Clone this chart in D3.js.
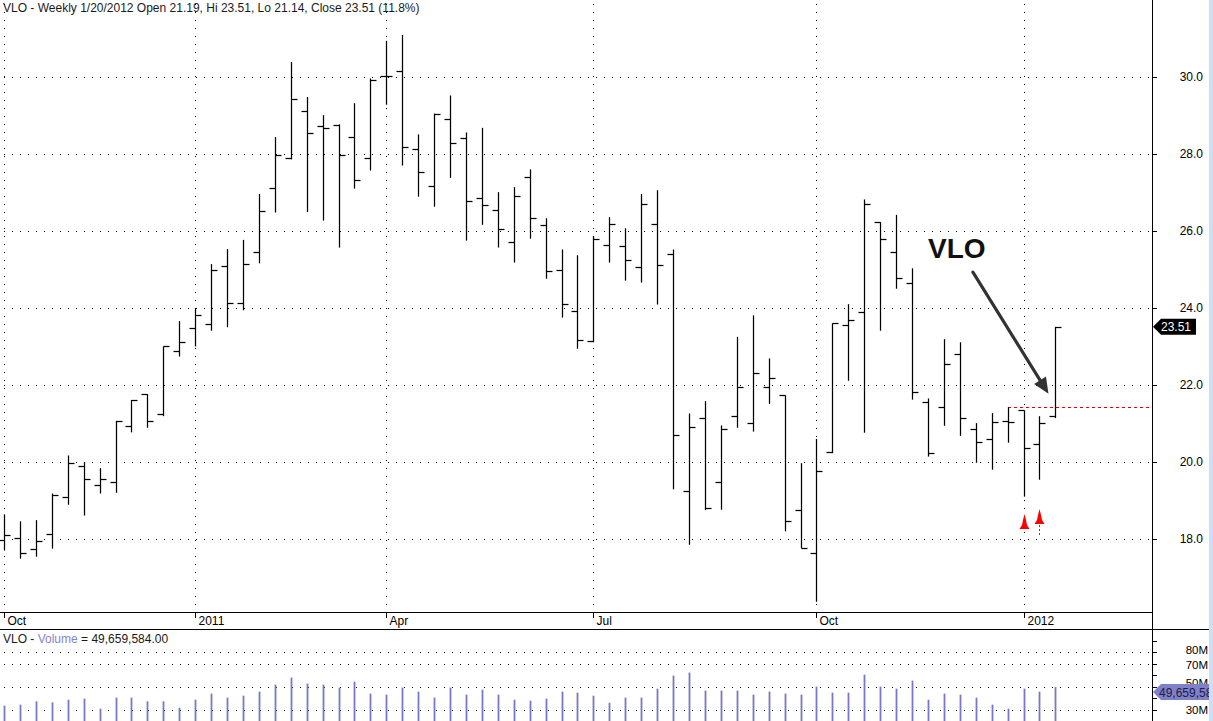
<!DOCTYPE html>
<html><head><meta charset="utf-8">
<script src="https://cdn.jsdelivr.net/npm/d3@7/dist/d3.min.js"></script>
<style>
body{margin:0;background:#fff}
svg{display:block}
text{font-family:"Liberation Sans",Arial,sans-serif}
</style>
</head><body>
<svg id="chart" width="1213" height="721"></svg>
<script>
// ---- data (weekly bars, VLO) ----
const weeks = [
"2010-10-15","2010-10-22","2010-10-29","2010-11-05","2010-11-12","2010-11-19","2010-11-26",
"2010-12-03","2010-12-10","2010-12-17","2010-12-24","2010-12-31",
"2011-01-07","2011-01-14","2011-01-21","2011-01-28","2011-02-04","2011-02-11","2011-02-18","2011-02-25",
"2011-03-04","2011-03-11","2011-03-18","2011-03-25","2011-04-01","2011-04-08","2011-04-15","2011-04-22","2011-04-29",
"2011-05-06","2011-05-13","2011-05-20","2011-05-27","2011-06-03","2011-06-10","2011-06-17","2011-06-24",
"2011-07-01","2011-07-08","2011-07-15","2011-07-22","2011-07-29","2011-08-05","2011-08-12","2011-08-19","2011-08-26",
"2011-09-02","2011-09-09","2011-09-16","2011-09-23","2011-09-30","2011-10-07","2011-10-14","2011-10-21","2011-10-28",
"2011-11-04","2011-11-11","2011-11-18","2011-11-25","2011-12-02","2011-12-09","2011-12-16","2011-12-23","2011-12-30",
"2012-01-06","2012-01-13","2012-01-20"];
const open  = [17.97,18.02,17.73,18.12,19.08,19.89,19.39,19.47,20.93,21.76,21.24,22.88,23.47,23.58,25.08,24.12,25.45,27.12,27.90,29.12,
28.72,28.75,28.43,27.90,30.03,30.15,28.13,27.17,28.91,28.42,26.85,26.54,25.71,27.39,26.15,24.99,23.91,23.15,25.63,25.60,
25.06,26.17,25.39,19.24,21.13,19.47,21.19,21.01,21.94,21.73,18.75,17.63,20.27,23.55,23.89,26.23,25.45,24.64,21.55,21.42,
22.80,20.85,20.59,21.06,21.34,20.46,21.19];
const high  = [18.64,18.46,18.49,19.18,20.17,20.00,19.84,21.07,21.61,21.76,23.00,23.66,23.99,25.14,25.53,25.77,26.96,28.44,30.39,29.48,
29.01,28.77,29.32,29.96,30.94,31.09,28.51,29.05,29.52,28.56,28.68,27.01,27.14,27.60,26.33,25.52,25.37,25.87,26.36,26.07,
26.96,27.06,25.52,21.26,21.58,20.95,23.25,23.81,22.69,21.73,19.97,20.60,23.60,24.10,26.82,26.23,26.42,25.03,21.65,23.19,
23.11,21.01,21.27,21.42,21.34,21.19,23.51];
const low   = [17.70,17.49,17.54,17.75,18.89,18.61,19.18,19.20,20.77,20.89,21.19,22.74,23.00,23.41,23.50,23.94,25.16,26.48,27.86,26.49,
26.27,25.57,27.10,27.57,29.28,27.70,26.89,26.63,27.38,25.75,26.16,25.57,25.18,25.80,24.76,23.75,22.94,23.11,25.18,24.71,
24.66,24.09,19.29,17.85,18.75,18.76,20.89,20.79,21.51,18.20,17.76,16.37,20.23,22.11,20.76,23.41,24.50,21.62,20.14,20.94,
20.68,19.98,19.80,20.50,19.10,19.54,21.14];
const close = [18.10,17.63,17.94,19.14,19.97,19.56,19.55,21.06,21.60,21.06,23.00,23.11,23.81,24.98,24.12,25.13,26.51,27.97,29.42,28.54,
28.67,27.97,27.32,29.91,30.03,28.17,27.52,29.03,28.28,26.77,26.67,26.04,26.90,26.33,24.95,24.10,23.16,25.78,26.17,25.24,
26.69,25.11,20.69,20.90,18.80,20.85,21.94,22.30,22.17,18.46,17.76,19.76,23.60,23.68,26.69,25.79,24.77,21.82,20.23,22.55,
21.13,20.51,21.03,21.03,20.36,21.01,23.51];
const volume = [33.5,34.4,37.3,36.4,38.7,39.6,30.9,40.5,40.5,37.3,37.3,31.7,38.7,44.0,40.5,42.2,45.7,51.8,57.9,52.7,
51.8,49.2,54.4,44.0,43.1,49.2,45.7,40.5,49.2,43.1,47.4,43.1,38.7,37.8,39.6,45.7,44.8,42.2,36.1,40.5,
40.5,48.3,59.7,62.3,46.6,46.6,46.6,43.1,45.7,44.0,43.1,50.1,44.8,44.8,60.5,50.1,48.3,55.3,38.7,44.0,
43.1,40.5,34.4,30.9,48.3,45.7,49.66]; // millions

const priceTicks = [18,20,22,24,26,28,30];
const monthTickDates  = ["2010-10-15","2011-01-07","2011-04-01","2011-07-01","2011-10-07","2012-01-06"];
const monthTickLabels = ["Oct","2011","Apr","Jul","Oct","2012"];
const volTicks = [90,80,70,60,50,40,30];
const volLabels = [80,70,50,30];
const volLabelShift = [2,5,0,4];
const volGrid = [80,70,50,30];
const signalWeeks = ["2012-01-06","2012-01-13"];
const signalTip = [18.65,18.78];
const resistance = {from:"2011-12-30", value:21.42};
const title = "VLO - Weekly 1/20/2012 Open 21.19, Hi 23.51, Lo 21.14, Close 23.51 (11.8%)";
const volTitle = ["VLO - ","Volume"," = 49,659,584.00"];
const lastVolText = "49,659,584.00";

// ---- layout ----
const W = 1213, H = 721;
const plotRight = 1152, priceBottom = 612, sepY = 629.5;
const parse = d3.timeParse("%Y-%m-%d");
const dates = weeks.map(parse);
const bars = dates.map((d,i)=>({d,o:open[i],h:high[i],l:low[i],c:close[i],v:volume[i]}));

const x = d3.scaleTime().domain([dates[0], dates[dates.length-1]]).range([4, 1055.4]);
const y = d3.scaleLinear().domain([18,30]).range([539,77]);
const yv = d3.scaleLinear().domain([30,90]).range([709.7,640.7]);
const px = v => Math.round(v) + 0.5;

const svg = d3.select("#chart");
svg.append("rect").attr("width",W).attr("height",H).attr("fill","#fff");

// gridlines price
const grid = svg.append("g").attr("stroke","#000").attr("stroke-width",1).attr("stroke-dasharray","1,7").attr("shape-rendering","crispEdges");
grid.selectAll(".hg").data(priceTicks).join("line")
  .attr("x1",4).attr("x2",plotRight-1).attr("y1",d=>px(y(d))).attr("y2",d=>px(y(d)));
grid.selectAll(".vg").data(monthTickDates).join("line")
  .attr("x1",d=>px(x(parse(d)))).attr("x2",d=>px(x(parse(d)))).attr("y1",4).attr("y2",priceBottom-1);
// volume grid
grid.selectAll(".vvg").data(volGrid).join("line")
  .attr("x1",4).attr("x2",plotRight-1).attr("y1",d=>px(yv(d))).attr("y2",d=>px(yv(d)));

// title
svg.append("text").attr("x",3).attr("y",12).attr("font-size",12).attr("fill","#1a1a1a").text(title);

// price clip
svg.append("clipPath").attr("id","pclip").append("rect").attr("x",0).attr("y",0).attr("width",plotRight).attr("height",priceBottom);

// resistance dashed line
svg.append("line").attr("x1",x(parse(resistance.from))).attr("x2",plotRight)
  .attr("y1",px(y(resistance.value))).attr("y2",px(y(resistance.value)))
  .attr("stroke","#e00000").attr("stroke-width",1).attr("stroke-dasharray","3,3").attr("shape-rendering","crispEdges");

// OHLC bars
const g = svg.append("g").attr("clip-path","url(#pclip)").attr("stroke","#000").attr("stroke-width",1.25);
const bg = g.selectAll("g.bar").data(bars).join("g");
bg.append("line").attr("x1",d=>px(x(d.d))).attr("x2",d=>px(x(d.d))).attr("y1",d=>y(d.h)).attr("y2",d=>y(d.l));
bg.append("line").attr("x1",d=>px(x(d.d))-6).attr("x2",d=>px(x(d.d))).attr("y1",d=>px(y(d.o))).attr("y2",d=>px(y(d.o)));
bg.append("line").attr("x1",d=>px(x(d.d))).attr("x2",d=>px(x(d.d))+6).attr("y1",d=>px(y(d.c))).attr("y2",d=>px(y(d.c)));

// red signal arrows
signalWeeks.forEach((w,i)=>{
  const cx = px(x(parse(w))), ty = y(signalTip[i]);
  svg.append("path").attr("fill","#ff0000")
    .attr("d",`M${cx},${ty} L${cx+1.5},${ty+6} L${cx+2.5},${ty+11} L${cx+5},${ty+15} L${cx-5},${ty+15} L${cx-2.5},${ty+11} L${cx-1.5},${ty+6} Z`);
  if(i===1){
    svg.append("line").attr("x1",cx).attr("x2",cx).attr("y1",ty+16).attr("y2",ty+26)
      .attr("stroke","#ff0000").attr("stroke-width",1).attr("stroke-dasharray","2,2");
  }
});

// VLO annotation and arrow
const ann = {labelDate:"2011-11-25", labelVal:25.38, fromDate:"2011-12-02", fromVal:24.93, toDate:"2012-01-13", toVal:21.77};
svg.append("text").attr("x",x(parse(ann.labelDate))).attr("y",y(ann.labelVal)+3)
  .attr("font-size",28).attr("font-weight","bold").attr("fill","#111").text("VLO");
{
  const x1 = x(parse(ann.fromDate))+29, y1 = y(ann.fromVal);
  const x2 = x(parse(ann.toDate))+9, y2 = y(ann.toVal);
  const ang = Math.atan2(y2-y1, x2-x1), L = 16, Wd = 7;
  const bx = x2 - L*Math.cos(ang), by = y2 - L*Math.sin(ang);
  svg.append("line").attr("x1",x1).attr("y1",y1).attr("x2",bx+2*Math.cos(ang)).attr("y2",by+2*Math.sin(ang))
    .attr("stroke","#333").attr("stroke-width",3.2).attr("stroke-linecap","round");
  svg.append("path").attr("fill","#333")
    .attr("d",`M${x2},${y2} L${bx - Wd*Math.sin(ang)},${by + Wd*Math.cos(ang)} L${bx + Wd*Math.sin(ang)},${by - Wd*Math.cos(ang)} Z`);
}

// x axis
svg.append("line").attr("x1",0).attr("x2",plotRight).attr("y1",priceBottom+0.5).attr("y2",priceBottom+0.5)
  .attr("stroke","#000").attr("shape-rendering","crispEdges");
const xa = svg.append("g");
monthTickDates.forEach((d,i)=>{
  const xx = px(x(parse(d)));
  xa.append("line").attr("x1",xx).attr("x2",xx).attr("y1",priceBottom).attr("y2",priceBottom+6)
    .attr("stroke","#000").attr("shape-rendering","crispEdges");
  xa.append("text").attr("x",xx+3).attr("y",priceBottom+13).attr("font-size",12).attr("fill","#000").text(monthTickLabels[i]);
});

// separator
svg.append("line").attr("x1",0).attr("x2",W).attr("y1",sepY).attr("y2",sepY).attr("stroke","#000").attr("shape-rendering","crispEdges");

// volume title
const vt = svg.append("text").attr("x",3).attr("y",643).attr("font-size",12);
vt.append("tspan").attr("fill","#1a1a1a").text(volTitle[0]);
vt.append("tspan").attr("fill","#8484cc").text(volTitle[1]);
vt.append("tspan").attr("fill","#1a1a1a").text(volTitle[2]);

// volume bars
svg.append("g").attr("stroke","#7878c4").attr("stroke-width",1.8)
  .selectAll("line").data(bars).join("line")
  .attr("x1",d=>px(x(d.d))).attr("x2",d=>px(x(d.d))).attr("y1",d=>yv(d.v)).attr("y2",H);

// right axis
svg.append("line").attr("x1",plotRight+0.5).attr("x2",plotRight+0.5).attr("y1",0).attr("y2",H)
  .attr("stroke","#000").attr("shape-rendering","crispEdges");
const ra = svg.append("g").attr("stroke","#000").attr("shape-rendering","crispEdges");
ra.selectAll(".pt").data(priceTicks).join("line").attr("x1",plotRight).attr("x2",plotRight+5)
  .attr("y1",d=>px(y(d))).attr("y2",d=>px(y(d)));
ra.selectAll(".vt").data(volTicks).join("line").attr("x1",plotRight).attr("x2",plotRight+5)
  .attr("y1",d=>px(yv(d))).attr("y2",d=>px(yv(d)));
svg.append("g").selectAll("text").data(priceTicks).join("text")
  .attr("x",1203).attr("y",d=>y(d)+4).attr("text-anchor","end").attr("font-size",12).attr("fill","#000")
  .text(d=>d.toFixed(1));
svg.append("g").selectAll("text").data(volLabels).join("text")
  .attr("x",1208).attr("y",(d,i)=>yv(d)+volLabelShift[i]).attr("text-anchor","end").attr("font-size",11.5).attr("fill","#000")
  .text(d=>d+"M");

// last price label
{
  const ly = y(close[close.length-1]);
  svg.append("path").attr("fill","#000")
    .attr("d",`M${plotRight+1},${ly} L${plotRight+9},${ly-8} L1196,${ly-8} L1196,${ly+8} L${plotRight+9},${ly+8} Z`);
  svg.append("text").attr("x",1161).attr("y",ly+4.5).attr("font-size",12).attr("fill","#fff").text(close[close.length-1].toFixed(2));
}
// last volume label (cut at the right edge, as in the source)
{
  const ly = yv(volume[volume.length-1]) + 5;
  svg.append("clipPath").attr("id","vclip").append("rect").attr("x",plotRight).attr("y",0).attr("width",W-plotRight).attr("height",H);
  const lg = svg.append("g").attr("clip-path","url(#vclip)");
  lg.append("path").attr("fill","#8080c8")
    .attr("d",`M${plotRight+1},${ly} L${plotRight+9},${ly-8} L${W+40},${ly-8} L${W+40},${ly+8} L${plotRight+9},${ly+8} Z`);
  lg.append("text").attr("x",1159).attr("y",ly+4.5).attr("font-size",12).attr("fill","#1c1c48").text(lastVolText);
}

// right edge strip
svg.append("rect").attr("x",1209).attr("y",0).attr("width",4).attr("height",H).attr("fill","#cddff5");
</script>
</body></html>
